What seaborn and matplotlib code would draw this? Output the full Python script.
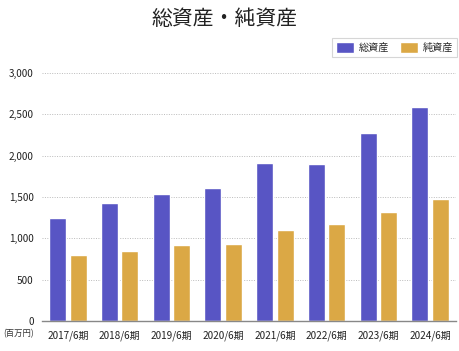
import matplotlib
matplotlib.use("Agg")
import matplotlib.pyplot as plt
import pandas as pd
import seaborn as sns
from matplotlib.ticker import FuncFormatter

periods = ["2017/6期", "2018/6期", "2019/6期", "2020/6期",
           "2021/6期", "2022/6期", "2023/6期", "2024/6期"]
total_assets = [1240, 1431, 1536, 1609, 1907, 1899, 2274, 2589]
net_assets = [798, 843, 919, 928, 1105, 1173, 1318, 1476]
series_names = ["総資産", "純資産"]
colors = ["#5855C4", "#DBA845"]

data = pd.DataFrame({
    "period": periods * 2,
    "value": total_assets + net_assets,
    "series": [series_names[0]] * len(periods) + [series_names[1]] * len(periods),
})

sns.set_style("white")
plt.rcParams["font.family"] = ["Noto Sans CJK JP", "DejaVu Sans"]

fig = plt.figure(figsize=(4.59, 3.51), dpi=100)
ax = fig.add_axes([0.0915, 0.0855, 0.902, 0.7065])

sns.barplot(data=data, x="period", y="value", hue="series", palette=colors,
            errorbar=None, gap=0.18, width=0.8, ax=ax, saturation=1)

ax.set_ylim(0, 3000)
ax.set_yticks(range(0, 3001, 500))
ax.yaxis.set_major_formatter(FuncFormatter(lambda v, p: f"{int(v):,}"))
ax.grid(axis="y", linestyle=(0, (1, 1.5)), color="#bbbbbb", linewidth=0.7)
ax.set_axisbelow(True)
for s in ["top", "right", "left"]:
    ax.spines[s].set_visible(False)
ax.spines["bottom"].set_color("#888888")
ax.spines["bottom"].set_linewidth(1)
ax.tick_params(axis="both", length=0, labelsize=7.2, colors="#222222")
ax.tick_params(axis="x", pad=7)
ax.tick_params(axis="y", pad=6)
ax.set_xlabel("")
ax.set_ylabel("")

fig.text(0.008, 0.05, "(百万円)", fontsize=6, color="#333333", va="center")
fig.suptitle("総資産・純資産", x=0.49, y=0.978, fontsize=15, color="#222222")

leg = ax.legend(loc="upper right", bbox_to_anchor=(1.003, 1.14), ncol=2,
                fontsize=7.3, frameon=True, fancybox=False, handlelength=1.8,
                handleheight=1.3, columnspacing=1.0, handletextpad=0.5,
                borderpad=0.4, borderaxespad=0)
leg.get_frame().set_edgecolor("#cccccc")
leg.get_frame().set_linewidth(0.8)

fig.savefig("out.png", dpi=100)
